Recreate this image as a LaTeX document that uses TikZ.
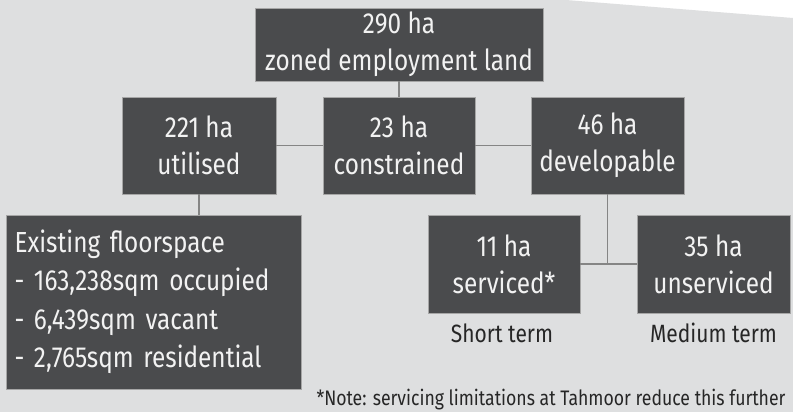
\documentclass[tikz,border=0pt]{standalone}
\usepackage{fontspec}
\setmainfont[FakeStretch=0.84]{Fira Sans}
\definecolor{panel}{HTML}{DEDFE0}
\definecolor{boxfill}{HTML}{4A4B4D}
\definecolor{linkgray}{HTML}{858585}
\tikzset{
  landbox/.style={draw=gray!70, line width=0.8pt, fill=boxfill, text=white!95!black, align=center, font=\fontsize{29}{37}\selectfont, inner sep=0pt},
  link/.style={draw=linkgray, line width=1.2pt},
  termlabel/.style={font=\fontsize{25}{28}\selectfont, text=black!85}
}
\begin{document}
\begin{tikzpicture}[x=1pt,y=-1pt]
    \useasboundingbox (0,0) rectangle (793,412);
    \fill[white] (0,0) rectangle (793,412);
    \fill[panel] (0,0) -- (566,0) -- (793,18) -- (793,412) -- (0,412) -- cycle;
    % boxes
    \node[landbox, minimum width=288pt, minimum height=73pt] (land) at (399,44.5) {290 ha\\zoned employment land};
    \node[landbox, minimum width=154pt, minimum height=97pt] (util) at (199,145.5) {221 ha\\utilised};
    \node[landbox, minimum width=152pt, minimum height=97pt] (constr) at (399,145.5) {23 ha\\constrained};
    \node[landbox, minimum width=153pt, minimum height=97pt] (devel) at (607.5,145.5) {46 ha\\developable};
    \node[landbox, minimum width=295pt, minimum height=174pt, align=left, text width=279pt, font=\fontsize{29}{38.5}\selectfont] (floor) at (154,302) {Existing floorspace\\- 163,238sqm occupied\\- 6,439sqm vacant\\- 2,765sqm residential};
    \node[landbox, minimum width=152pt, minimum height=98pt] (serv) at (504,264) {11 ha\\serviced*};
    \node[landbox, minimum width=153pt, minimum height=98pt] (unserv) at (713.5,264) {35 ha\\unserviced};
    % links
    \draw[link] (land.south) -- (constr.north);
    \draw[link] (util.east) -- (constr.west);
    \draw[link] (constr.east) -- (devel.west);
    \draw[link] (util.south) -- (util.south |- floor.north);
    \draw[link] (devel.south) -- (devel.south |- serv.east);
    \draw[link] (serv.east) -- (unserv.west);
    % labels
    \node[termlabel] (short) at (502,333) {Short term};
    \node[termlabel] (medium) at (713.5,333) {Medium term};
    \node[termlabel, anchor=east, font=\fontsize{21}{24}\selectfont] (note) at (789,400) {*Note: servicing limitations at Tahmoor reduce this further};
\end{tikzpicture}
\end{document}
